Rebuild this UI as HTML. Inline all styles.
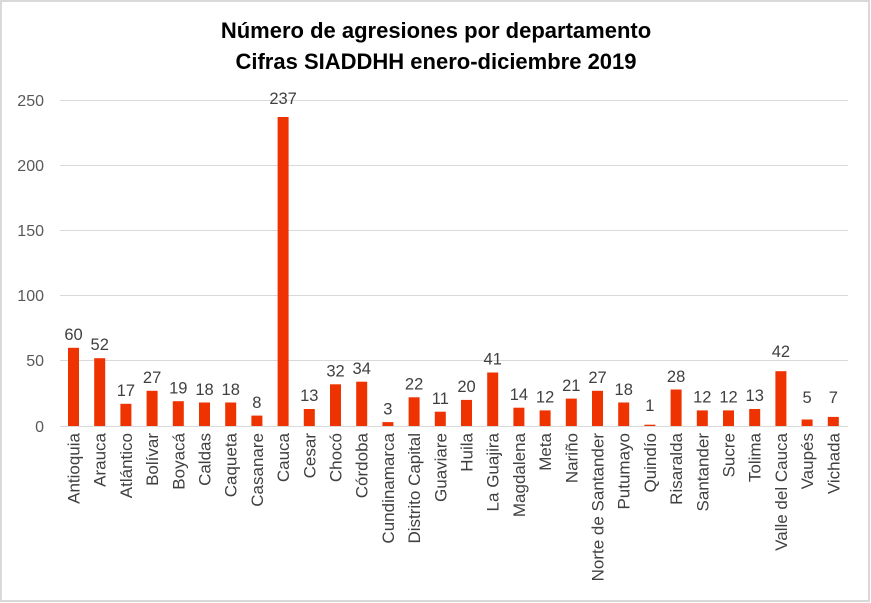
<!DOCTYPE html>
<html><head><meta charset="utf-8"><style>
body{margin:0;background:#fff}
svg{display:block;font-family:"Liberation Sans",sans-serif}
.v{font-size:16.5px;fill:#404040;text-anchor:middle}
.c{font-size:17px;fill:#404040;text-anchor:end}
.y{font-size:16px;fill:#595959;text-anchor:end}
rect.b{fill:#ee3300}
</style></head><body>
<svg width="871" height="603" viewBox="0 0 871 603">
<rect x="1" y="1" width="868" height="600" fill="#fff" stroke="#d9d9d9" stroke-width="2"/>
<text x="436" y="38" font-size="22" font-weight="bold" text-anchor="middle" fill="#000">Número de agresiones por departamento</text>
<text x="436" y="69" font-size="22" font-weight="bold" text-anchor="middle" fill="#000">Cifras SIADDHH enero-diciembre 2019</text>
<g stroke="#d9d9d9" stroke-width="1">
<line x1="60" x2="848" y1="100.5" y2="100.5"/><line x1="60" x2="848" y1="165.5" y2="165.5"/><line x1="60" x2="848" y1="230.5" y2="230.5"/><line x1="60" x2="848" y1="295.5" y2="295.5"/><line x1="60" x2="848" y1="360.5" y2="360.5"/><line x1="60" x2="848" y1="426.5" y2="426.5"/>
</g>
<text class="y" x="44" y="106">250</text><text class="y" x="44" y="171">200</text><text class="y" x="44" y="236">150</text><text class="y" x="44" y="301">100</text><text class="y" x="44" y="366">50</text><text class="y" x="44" y="432">0</text>
<g transform="translate(73.5,0)"><rect class="b" x="-5.5" y="347.8" width="11" height="78.2"/><text class="v" y="340">60</text><text class="c" transform="translate(6,433) rotate(-90)">Antioquia</text></g>
<g transform="translate(99.7,0)"><rect class="b" x="-5.5" y="358.2" width="11" height="67.8"/><text class="v" y="350">52</text><text class="c" transform="translate(6,433) rotate(-90)">Arauca</text></g>
<g transform="translate(125.9,0)"><rect class="b" x="-5.5" y="403.8" width="11" height="22.2"/><text class="v" y="396">17</text><text class="c" transform="translate(6,433) rotate(-90)">Atlántico</text></g>
<g transform="translate(152.1,0)"><rect class="b" x="-5.5" y="390.8" width="11" height="35.2"/><text class="v" y="383">27</text><text class="c" transform="translate(6,433) rotate(-90)">Bolívar</text></g>
<g transform="translate(178.3,0)"><rect class="b" x="-5.5" y="401.2" width="11" height="24.8"/><text class="v" y="393.5">19</text><text class="c" transform="translate(6,433) rotate(-90)">Boyacá</text></g>
<g transform="translate(204.5,0)"><rect class="b" x="-5.5" y="402.5" width="11" height="23.5"/><text class="v" y="395">18</text><text class="c" transform="translate(6,433) rotate(-90)">Caldas</text></g>
<g transform="translate(230.7,0)"><rect class="b" x="-5.5" y="402.5" width="11" height="23.5"/><text class="v" y="395">18</text><text class="c" transform="translate(6,433) rotate(-90)">Caqueta</text></g>
<g transform="translate(256.9,0)"><rect class="b" x="-5.5" y="415.6" width="11" height="10.4"/><text class="v" y="408">8</text><text class="c" transform="translate(6,433) rotate(-90)">Casanare</text></g>
<g transform="translate(283.1,0)"><rect class="b" x="-5.5" y="117" width="11" height="309"/><text class="v" y="104">237</text><text class="c" transform="translate(6,433) rotate(-90)">Cauca</text></g>
<g transform="translate(309.3,0)"><rect class="b" x="-5.5" y="409" width="11" height="17"/><text class="v" y="401">13</text><text class="c" transform="translate(6,433) rotate(-90)">Cesar</text></g>
<g transform="translate(335.5,0)"><rect class="b" x="-5.5" y="384.3" width="11" height="41.7"/><text class="v" y="376.5">32</text><text class="c" transform="translate(6,433) rotate(-90)">Chocó</text></g>
<g transform="translate(361.7,0)"><rect class="b" x="-5.5" y="381.7" width="11" height="44.3"/><text class="v" y="374">34</text><text class="c" transform="translate(6,433) rotate(-90)">Córdoba</text></g>
<g transform="translate(387.9,0)"><rect class="b" x="-5.5" y="422.1" width="11" height="3.9"/><text class="v" y="414.5">3</text><text class="c" transform="translate(6,433) rotate(-90)">Cundinamarca</text></g>
<g transform="translate(414.1,0)"><rect class="b" x="-5.5" y="397.3" width="11" height="28.7"/><text class="v" y="389.5">22</text><text class="c" transform="translate(6,433) rotate(-90)">Distrito Capital</text></g>
<g transform="translate(440.3,0)"><rect class="b" x="-5.5" y="411.7" width="11" height="14.3"/><text class="v" y="404">11</text><text class="c" transform="translate(6,433) rotate(-90)">Guaviare</text></g>
<g transform="translate(466.5,0)"><rect class="b" x="-5.5" y="399.9" width="11" height="26.1"/><text class="v" y="392">20</text><text class="c" transform="translate(6,433) rotate(-90)">Huila</text></g>
<g transform="translate(492.7,0)"><rect class="b" x="-5.5" y="372.5" width="11" height="53.5"/><text class="v" y="364.5">41</text><text class="c" transform="translate(6,433) rotate(-90)">La Guajira</text></g>
<g transform="translate(518.9,0)"><rect class="b" x="-5.5" y="407.7" width="11" height="18.3"/><text class="v" y="400">14</text><text class="c" transform="translate(6,433) rotate(-90)">Magdalena</text></g>
<g transform="translate(545.1,0)"><rect class="b" x="-5.5" y="410.4" width="11" height="15.6"/><text class="v" y="402.5">12</text><text class="c" transform="translate(6,433) rotate(-90)">Meta</text></g>
<g transform="translate(571.3,0)"><rect class="b" x="-5.5" y="398.6" width="11" height="27.4"/><text class="v" y="391">21</text><text class="c" transform="translate(6,433) rotate(-90)">Nariño</text></g>
<g transform="translate(597.5,0)"><rect class="b" x="-5.5" y="390.8" width="11" height="35.2"/><text class="v" y="383">27</text><text class="c" transform="translate(6,433) rotate(-90)">Norte de Santander</text></g>
<g transform="translate(623.7,0)"><rect class="b" x="-5.5" y="402.5" width="11" height="23.5"/><text class="v" y="395">18</text><text class="c" transform="translate(6,433) rotate(-90)">Putumayo</text></g>
<g transform="translate(649.9,0)"><rect class="b" x="-5.5" y="424.7" width="11" height="1.3"/><text class="v" y="411">1</text><text class="c" transform="translate(6,433) rotate(-90)">Quindío</text></g>
<g transform="translate(676.1,0)"><rect class="b" x="-5.5" y="389.5" width="11" height="36.5"/><text class="v" y="382">28</text><text class="c" transform="translate(6,433) rotate(-90)">Risaralda</text></g>
<g transform="translate(702.3,0)"><rect class="b" x="-5.5" y="410.4" width="11" height="15.6"/><text class="v" y="402.5">12</text><text class="c" transform="translate(6,433) rotate(-90)">Santander</text></g>
<g transform="translate(728.5,0)"><rect class="b" x="-5.5" y="410.4" width="11" height="15.6"/><text class="v" y="402.5">12</text><text class="c" transform="translate(6,433) rotate(-90)">Sucre</text></g>
<g transform="translate(754.7,0)"><rect class="b" x="-5.5" y="409" width="11" height="17"/><text class="v" y="401">13</text><text class="c" transform="translate(6,433) rotate(-90)">Tolima</text></g>
<g transform="translate(780.9,0)"><rect class="b" x="-5.5" y="371.2" width="11" height="54.8"/><text class="v" y="357">42</text><text class="c" transform="translate(6,433) rotate(-90)">Valle del Cauca</text></g>
<g transform="translate(807.1,0)"><rect class="b" x="-5.5" y="419.5" width="11" height="6.5"/><text class="v" y="403">5</text><text class="c" transform="translate(6,433) rotate(-90)">Vaupés</text></g>
<g transform="translate(833.3,0)"><rect class="b" x="-5.5" y="416.9" width="11" height="9.1"/><text class="v" y="403">7</text><text class="c" transform="translate(6,433) rotate(-90)">Vichada</text></g>
</svg>
</body></html>
